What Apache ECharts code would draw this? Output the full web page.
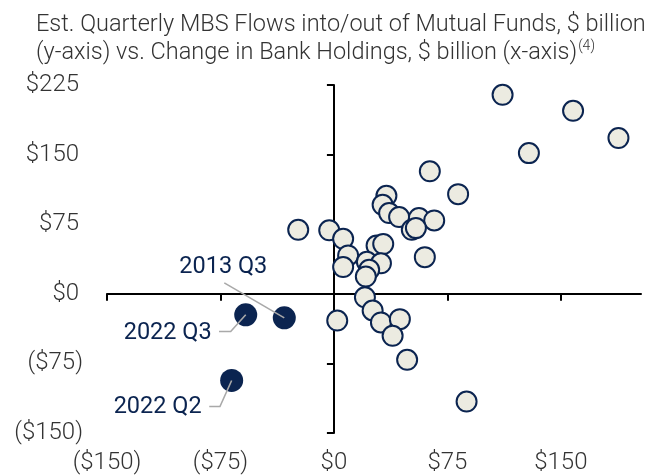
<!DOCTYPE html>
<html><head><meta charset="utf-8">
<script src="https://cdn.jsdelivr.net/npm/echarts@6/dist/echarts.min.js"></script>
<style>html,body{margin:0;padding:0;background:#fff}#c{width:660px;height:475px}</style>
</head><body><div id="c"></div>
<script>
// ---- data ----
const titleLine1 = 'Est. Quarterly MBS Flows into/out of Mutual Funds, $ billion';
const titleLine2 = '(y-axis) vs. Change in Bank Holdings, $ billion (x-axis)';
const titleNote = '(4)';
const xTicks = [-150, -75, 0, 75, 150];
const yTicks = [-150, -75, 0, 75, 150, 225];
const xMin = -150, xMax = 203, yMin = -150, yMax = 225;
// change in bank holdings (x) and mutual fund flows (y), $ billion
const bankChange = [111.5, 158.1, 188.1, 128.9, 63.4, 82.1, 34.7, 32.2, 36.5, 43.1, 56.2, 66.3, 51.5, 54.2, 60.1,
  -23.6, -3.1, 6.1, 9.4, 6.1, 28.2, 32.6, 21.8, 31.1, 23.3, 21.1, 20.5, 25.6, 31.1, 43.6, 38.8, 48.4, 87.7, 2.2];
const fundFlows  = [214.4, 197.2, 167.8, 151.6, 132.0, 107.4, 105.6, 95.9, 87.0, 82.7, 81.6, 79.0, 69.0, 70.8, 39.5,
  69.0, 68.4, 59.3, 41.3, 28.8, 52.0, 53.6, 34.5, 32.9, 25.9, 18.6, -3.8, -18.0, -30.9, -27.3, -45.3, -71.1, -116.1, -28.8];
const hlNames = ['2022 Q3', '2013 Q3', '2022 Q2'];
const hlBank  = [-58.3, -32.8, -67.6];
const hlFlows = [-22.6, -25.9, -93.4];

// ---- layout / style ----
const navy = '#0b2450', fillLight = '#ecebe1', axisText = '#333333';
const labelOffsets = [[-78, 18], [-61, -51], [-74, 27]];
const leaderOffsets = [
  [[-26.7, 16.7], [-15, 16.7], [0, 0]],
  [[-60, -35], [0, 0]],
  [[-22.4, 26], [-11.7, 26], [0, 0]]
];
const fmt = v => v < 0 ? '{n|($' + (-v) + ')}' : '{p|$' + v + '}';
const fmtX = v => v < 0 ? '($' + (-v) + ')' : '$' + v;
const font = 'Roboto';

const chart = echarts.init(document.getElementById('c'), null, {renderer: 'canvas'});
const option = {
  animation: false,
  backgroundColor: '#ffffff',
  title: {
    text: titleLine1 + '\n' + titleLine2 + '{s|' + titleNote + '}',
    left: 31, top: 6,
    textStyle: {
      fontFamily: font, fontWeight: 300, fontSize: 23.5, lineHeight: 28, color: '#333333',
      rich: { s: {fontFamily: font, fontWeight: 300, fontSize: 14, lineHeight: 28, verticalAlign: 'top', padding: [0,0,12,1], color: '#333333'} }
    }
  },
  grid: {left: 107, right: 19, top: 85, bottom: 42, containLabel: false},
  xAxis: [
    {type: 'value', min: xMin, max: xMax, position: 'bottom',
      axisLine: {show: false, onZero: false}, axisTick: {show: false}, splitLine: {show: false},
      axisLabel: {customValues: xTicks, formatter: fmtX, fontFamily: font, fontWeight: 300, fontSize: 24, color: axisText, margin: 18}},
    {type: 'value', min: xMin, max: xMax, position: 'top',
      axisLine: {show: true, onZero: true, onZeroAxisIndex: 0, lineStyle: {color: '#000', width: 2}},
      axisTick: {show: true, inside: true, length: 7, customValues: xTicks, lineStyle: {color: '#000', width: 2}},
      axisLabel: {show: false}, splitLine: {show: false}}
  ],
  yAxis: [
    {type: 'value', min: yMin, max: yMax, position: 'left',
      axisLine: {show: false, onZero: false}, axisTick: {show: false}, splitLine: {show: false},
      axisLabel: {customValues: yTicks, formatter: fmt, margin: 24,
        rich: {
          n: {fontFamily: font, fontWeight: 300, fontSize: 24, color: axisText},
          p: {fontFamily: font, fontWeight: 300, fontSize: 24, color: axisText, padding: [0, 4, 0, 0]}
        }}},
    {type: 'value', min: yMin, max: yMax, position: 'right',
      axisLine: {show: true, onZero: true, onZeroAxisIndex: 0, lineStyle: {color: '#000', width: 2}},
      axisTick: {show: true, inside: true, length: 7, customValues: yTicks, lineStyle: {color: '#000', width: 2}},
      axisLabel: {show: false}, splitLine: {show: false}}
  ],
  series: [
    {type: 'scatter', xAxisIndex: 0, yAxisIndex: 0, symbolSize: 20, z: 3,
      itemStyle: {color: fillLight, borderColor: navy, borderWidth: 2, opacity: 1},
      data: bankChange.map((x, i) => [x, fundFlows[i]])},
    {type: 'scatter', xAxisIndex: 0, yAxisIndex: 0, symbolSize: 23, z: 3,
      itemStyle: {color: navy, borderColor: navy, borderWidth: 0, opacity: 1},
      label: {show: true, position: 'inside', formatter: p => p.name,
        fontFamily: font, fontSize: 23.5, color: navy},
      data: hlBank.map((x, i) => ({name: hlNames[i], value: [x, hlFlows[i]],
        label: {offset: labelOffsets[i]}}))}
  ]
};
chart.setOption(option);

const lines = hlBank.map((x, i) => {
  const c = chart.convertToPixel({seriesIndex: 1}, [x, hlFlows[i]]);
  return {type: 'polyline', z: 10, silent: true,
    shape: {points: leaderOffsets[i].map(o => [c[0] + o[0], c[1] + o[1]])},
    style: {stroke: '#a9a9a9', lineWidth: 1.6, fill: null}};
});
chart.setOption({graphic: lines});
</script>
</body></html>
